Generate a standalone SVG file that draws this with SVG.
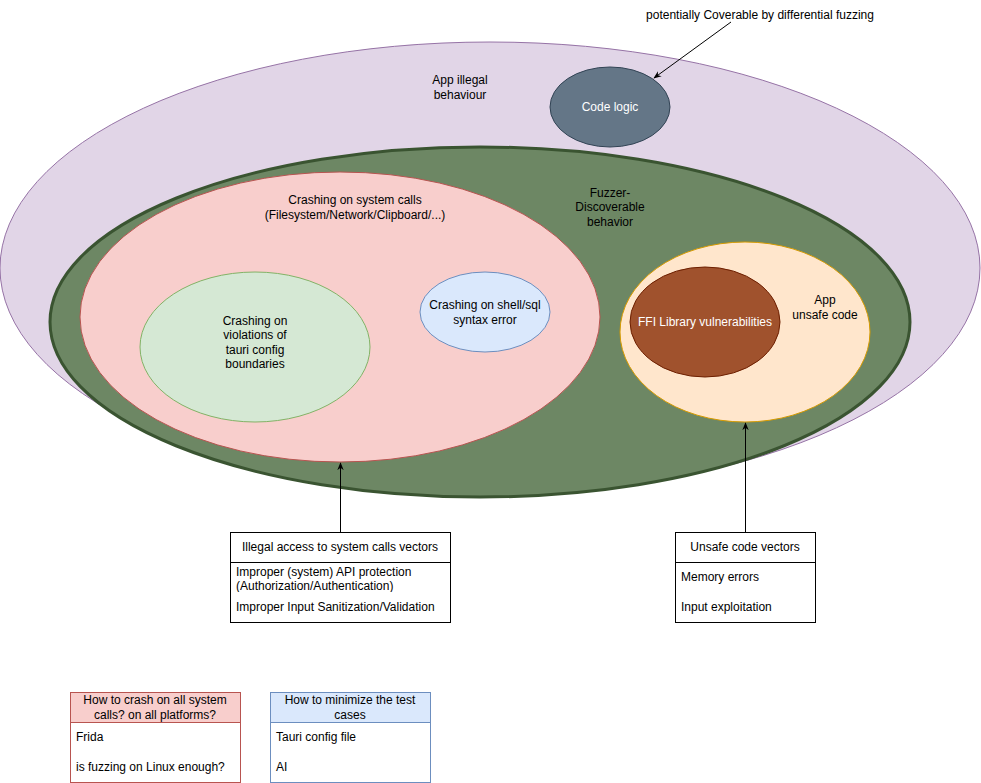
<svg xmlns="http://www.w3.org/2000/svg" width="981" height="783" viewBox="0 0 981 783">
<defs>
<marker id="arr" viewBox="0 0 10 10" refX="9" refY="5" markerWidth="8" markerHeight="8" orient="auto" markerUnits="userSpaceOnUse">
<path d="M0,1 L10,5 L0,9 L3,5 Z" fill="#000"/>
</marker>
<clipPath id="clip1"><rect x="231" y="563" width="219" height="29"/></clipPath>
<style>
text{font-family:"Liberation Sans",Arial,sans-serif;font-size:12px;fill:#000}
.c{text-anchor:middle}
.w{fill:#fff}
.box{fill:#fff;stroke:#000;stroke-width:1}
.edge{fill:none;stroke:#000;stroke-width:1;marker-end:url(#arr)}
</style>
</defs>
<rect width="981" height="783" fill="#fff"/>
<g id="app-illegal">
<ellipse cx="490" cy="268" rx="490" ry="226" fill="#e1d5e7" stroke="#9673a6"/>
<text class="c" x="460" y="84">App illegal</text>
<text class="c" x="460" y="99">behaviour</text>
</g>
<g id="code-logic">
<ellipse cx="610" cy="107" rx="60" ry="40" fill="#647687" stroke="#314354"/>
<text class="c w" x="610" y="111">Code logic</text>
</g>
<g id="fuzzer-discoverable">
<ellipse cx="480" cy="322" rx="430" ry="175" fill="#6d8764" stroke="#3a5431" stroke-width="3"/>
<text class="c" x="610" y="197">Fuzzer-</text>
<text class="c" x="610" y="211">Discoverable</text>
<text class="c" x="610" y="226">behavior</text>
</g>
<g id="system-calls">
<ellipse cx="340" cy="317" rx="260" ry="145" fill="#f8cecc" stroke="#b85450"/>
<text class="c" x="355" y="204">Crashing on system calls</text>
<text class="c" x="355" y="219">(Filesystem/Network/Clipboard/...)</text>
</g>
<g id="tauri-config">
<ellipse cx="255" cy="347" rx="115" ry="75" fill="#d5e8d4" stroke="#82b366"/>
<text class="c" x="255" y="325">Crashing on</text>
<text class="c" x="255" y="339">violations of</text>
<text class="c" x="255" y="354">tauri config</text>
<text class="c" x="255" y="368">boundaries</text>
</g>
<g id="shell-sql">
<ellipse cx="485" cy="312" rx="65" ry="40" fill="#dae8fc" stroke="#6c8ebf"/>
<text class="c" x="485" y="309">Crashing on shell/sql</text>
<text class="c" x="485" y="324">syntax error</text>
</g>
<g id="unsafe-code">
<ellipse cx="745" cy="332" rx="125" ry="90" fill="#ffe6cc" stroke="#d79b00"/>
<text class="c" x="825" y="304">App</text>
<text class="c" x="825" y="319">unsafe code</text>
</g>
<g id="ffi">
<ellipse cx="705" cy="322" rx="75" ry="55" fill="#a0522d" stroke="#6d1f00"/>
<text class="c w" x="705" y="326">FFI Library vulnerabilities</text>
</g>
<g id="note-differential">
<text class="c" x="760" y="19">potentially Coverable by differential fuzzing</text>
</g>
<g id="syscall-vectors">
<rect class="box" x="230.5" y="532.5" width="220" height="90"/>
<line x1="230.5" y1="562.5" x2="450.5" y2="562.5" stroke="#000"/>
<text class="c" x="340" y="551">Illegal access to system calls vectors</text>
<g clip-path="url(#clip1)">
<text x="236" y="576">Improper (system) API protection</text>
<text x="236" y="590">(Authorization/Authentication)</text>
</g>
<text x="236" y="611">Improper Input Sanitization/Validation</text>
</g>
<g id="unsafe-vectors">
<rect class="box" x="675.5" y="532.5" width="140" height="90"/>
<line x1="675.5" y1="562.5" x2="815.5" y2="562.5" stroke="#000"/>
<text class="c" x="745" y="551">Unsafe code vectors</text>
<text x="681" y="581">Memory errors</text>
<text x="681" y="611">Input exploitation</text>
</g>
<g id="crash-question">
<rect x="70.5" y="692.5" width="170" height="90" fill="#fff" stroke="#b85450"/>
<rect x="70.5" y="692.5" width="170" height="30" fill="#f8cecc" stroke="#b85450"/>
<text class="c" x="155" y="704">How to crash on all system</text>
<text class="c" x="155" y="719">calls? on all platforms?</text>
<text x="76" y="741">Frida</text>
<text x="76" y="771">is fuzzing on Linux enough?</text>
</g>
<g id="minimize-question">
<rect x="270.5" y="692.5" width="160" height="90" fill="#fff" stroke="#6c8ebf"/>
<rect x="270.5" y="692.5" width="160" height="30" fill="#dae8fc" stroke="#6c8ebf"/>
<text class="c" x="350" y="704">How to minimize the test</text>
<text class="c" x="350" y="719">cases</text>
<text x="276" y="741">Tauri config file</text>
<text x="276" y="771">AI</text>
</g>
<g id="connectors">
<line class="edge" x1="731" y1="22" x2="654" y2="78"/>
<line class="edge" x1="340.5" y1="532" x2="340.5" y2="463"/>
<line class="edge" x1="745.5" y1="532" x2="745.5" y2="423"/>
</g>
</svg>
